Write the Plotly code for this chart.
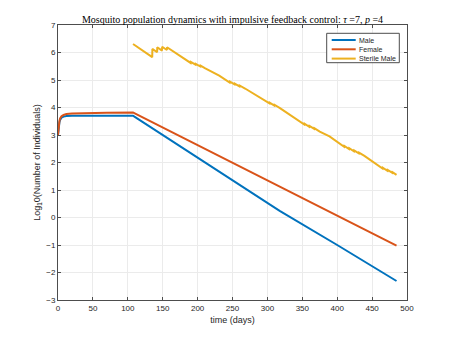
import plotly.graph_objects as go

# values (log10 of individuals)
male_t = [0, 1, 2, 3, 5, 8, 12, 20, 40, 70, 107.5, 110, 317.6, 400, 485]
male_v = [3.0, 3.3, 3.45, 3.55, 3.63, 3.67, 3.69, 3.70, 3.70, 3.70, 3.70, 3.66, 0.24, -1.0, -2.31]

female_t = [0, 1, 2, 3, 5, 8, 12, 20, 40, 70, 107.5, 110, 485]
female_v = [3.0, 3.35, 3.5, 3.6, 3.68, 3.73, 3.76, 3.78, 3.80, 3.81, 3.82, 3.79, -1.02]

sterile_t = [107.5, 135, 135.2, 142, 142.2, 149, 149.2, 156, 156.2, 174,
             190, 190.2, 197, 197.2, 204, 204.2, 211, 231,
             246, 246.2, 253, 253.2, 260, 260.2, 268,
             303, 303.2, 310, 310.2, 318,
             353, 353.2, 360, 360.2, 367, 367.2, 375, 389,
             410, 410.2, 417, 417.2, 424, 424.2, 431, 431.2, 439,
             465, 465.2, 472, 472.2, 479, 479.2, 485]
sterile_v = [6.31, 5.83, 6.13, 6.01, 6.19, 6.07, 6.21, 6.09, 6.19, 5.88,
             5.62, 5.66, 5.56, 5.59, 5.49, 5.52, 5.42, 5.16,
             4.91, 4.94, 4.84, 4.87, 4.77, 4.80, 4.69,
             4.15, 4.18, 4.07, 4.10, 3.98,
             3.38, 3.41, 3.30, 3.33, 3.22, 3.25, 3.12, 2.95,
             2.57, 2.60, 2.49, 2.52, 2.41, 2.44, 2.33, 2.36, 2.24,
             1.78, 1.81, 1.70, 1.73, 1.62, 1.65, 1.55]

series_names = ['Male', 'Female', 'Sterile Male']
x_ticks = list(range(0, 501, 50))
y_ticks = list(range(-3, 8))

# MATLAB default colour order
colors = ['#0072BD', '#D95319', '#EDB120']
axis_col = '#4d4d4d'
text_col = '#262626'

W, H = 450, 338
L, R, T, B = 58, 43, 25, 38
pw, ph = W - L - R, H - T - B


def px(x):
    return (x - L) / pw


def py(y):
    return 1 - (y - T) / ph


fig = go.Figure()
for t, v, name, c in zip([male_t, female_t, sterile_t], [male_v, female_v, sterile_v],
                         series_names, colors):
    fig.add_trace(go.Scatter(x=t, y=v, mode='lines', name=name,
                             line=dict(color=c, width=2)))

axis_style = dict(showline=True, linecolor=axis_col, linewidth=1, mirror='allticks',
                  ticks='inside', ticklen=3, tickcolor=axis_col, automargin=False,
                  showgrid=True, gridcolor='#ebebeb', gridwidth=1, zeroline=False,
                  tickfont=dict(family='Liberation Sans', size=8, color=text_col))

fig.update_xaxes(range=[0, 500], tickvals=x_ticks,
                 title=dict(text='time (days)', standoff=5,
                            font=dict(family='Liberation Sans', size=9, color=text_col)),
                 **axis_style)
fig.update_yaxes(range=[-3, 7], tickvals=y_ticks,
                 title=dict(text='Log<sub>1</sub>0(Number of Individuals)', standoff=4,
                            font=dict(family='Liberation Sans', size=9, color=text_col)),
                 **axis_style)

# compact MATLAB-style legend box
shapes = [dict(type='rect', xref='paper', yref='paper',
               x0=px(326.7), x1=px(399.3), y0=py(62.7), y1=py(33.3),
               line=dict(color=axis_col, width=1), fillcolor='white', layer='above')]
annotations = []
for i, (name, c) in enumerate(zip(series_names, colors)):
    yy = 40 + 9.3 * i
    shapes.append(dict(type='line', xref='paper', yref='paper',
                       x0=px(331.7), x1=px(355.7), y0=py(yy), y1=py(yy),
                       line=dict(color=c, width=2), layer='above'))
    annotations.append(dict(text=name, xref='paper', yref='paper', x=px(358.0), y=py(yy),
                            xanchor='left', yanchor='middle', showarrow=False,
                            xshift=-1,
                            font=dict(family='Liberation Sans', size=7, color=text_col)))

fig.update_layout(
    width=W, height=H, autosize=False,
    margin=dict(l=L, r=R, t=T, b=B),
    paper_bgcolor='white', plot_bgcolor='white',
    title=dict(text='Mosquito population dynamics with impulsive feedback control: '
                    '<i>τ</i> =7, <i>p</i> =4',
               x=0.5, xref='paper', y=1 - 19 / H, yref='container',
               xanchor='center', yanchor='middle',
               font=dict(family='Liberation Serif', size=10, color='black')),
    shapes=shapes, annotations=annotations,
    showlegend=False,
)

fig.write_html("out.html", config={'displayModeBar': False},
               post_script="document.body.style.margin='0';")
